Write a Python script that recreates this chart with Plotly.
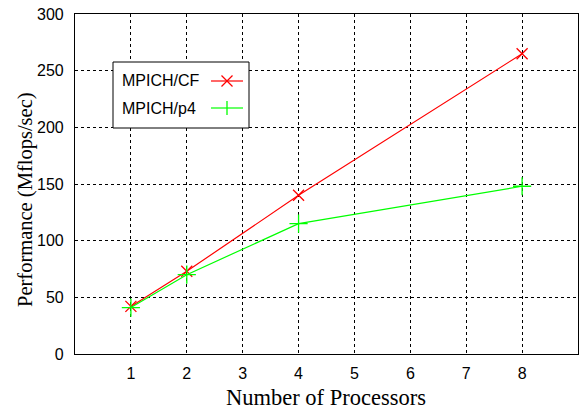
import plotly.graph_objects as go

processors = [1, 2, 4, 8]
mpich_cf = [42, 73, 140, 265]
mpich_p4 = [41, 70, 115, 148]
series_names = ["MPICH/CF", "MPICH/p4"]
x_ticks = [1, 2, 3, 4, 5, 6, 7, 8]
y_ticks = [0, 50, 100, 150, 200, 250, 300]
x_title = "Number of Processors"
y_title = "Performance (Mflops/sec)"

W, H = 580, 412
L, R, T, B = 75, 2, 14, 58
PW, PH = W - L - R, H - T - B

def px(x):
    return (x - L) / PW

def py(y):
    return (H - B - y) / PH

fig = go.Figure()
fig.add_trace(go.Scatter(x=processors, y=mpich_cf, mode="lines+markers", name=series_names[0],
                         line=dict(color="#ff0000", width=1.2),
                         marker=dict(symbol="x-thin-open", size=11, line=dict(color="#ff0000", width=1.3)),
                         showlegend=False))
fig.add_trace(go.Scatter(x=processors, y=mpich_p4, mode="lines+markers", name=series_names[1],
                         line=dict(color="#00ff00", width=1.2),
                         marker=dict(symbol="cross-thin-open", size=13, line=dict(color="#00ff00", width=1.3)),
                         showlegend=False))

shapes = []
shapes.append(dict(type="rect", xref="paper", yref="paper", x0=px(113), x1=px(249), y0=py(128), y1=py(62),
                   line=dict(color="black", width=1), fillcolor="white", layer="above"))
annotations = []
rows = [(81, "#ff0000", "x"), (108, "#00ff00", "+")]
for (yy, col, sym), name in zip(rows, series_names):
    shapes.append(dict(type="line", xref="paper", yref="paper", x0=px(211), x1=px(243), y0=py(yy), y1=py(yy),
                       line=dict(color=col, width=1.2), layer="above"))
    cx = 227
    if sym == "x":
        s = 5.5
        shapes.append(dict(type="line", xref="paper", yref="paper", x0=px(cx - s), x1=px(cx + s), y0=py(yy - s), y1=py(yy + s),
                           line=dict(color=col, width=1.3), layer="above"))
        shapes.append(dict(type="line", xref="paper", yref="paper", x0=px(cx - s), x1=px(cx + s), y0=py(yy + s), y1=py(yy - s),
                           line=dict(color=col, width=1.3), layer="above"))
    else:
        s = 7
        shapes.append(dict(type="line", xref="paper", yref="paper", x0=px(cx), x1=px(cx), y0=py(yy - s), y1=py(yy + s),
                           line=dict(color=col, width=1.3), layer="above"))
    annotations.append(dict(xref="paper", yref="paper", x=px(120), y=py(yy), text=name, showarrow=False,
                            xanchor="left", yanchor="middle",
                            font=dict(family="Liberation Sans, Arial, sans-serif", size=16, color="black")))

serif = "Liberation Serif, Times New Roman, serif"
annotations.append(dict(xref="paper", yref="paper", x=px(326), y=py(397), text=x_title, showarrow=False,
                        xanchor="center", yanchor="middle", font=dict(family=serif, size=22.5, color="black")))
annotations.append(dict(xref="paper", yref="paper", x=px(25), y=py(200), text=y_title, showarrow=False,
                        textangle=-90, xanchor="center", yanchor="middle",
                        font=dict(family=serif, size=20.5, color="black")))

fig.update_layout(
    width=W, height=H,
    margin=dict(l=L, r=R, t=T, b=B, pad=0),
    paper_bgcolor="white", plot_bgcolor="white",
    shapes=shapes, annotations=annotations,
    font=dict(family="Liberation Sans, Arial, sans-serif", size=16, color="black"),
    xaxis=dict(range=[0, 9], tickvals=x_ticks, ticktext=[str(v) for v in x_ticks],
               showgrid=True, gridcolor="black", griddash="dot", gridwidth=1,
               showline=True, linecolor="black", linewidth=1.2, mirror=True,
               ticks="", zeroline=False, ticklabelstandoff=5),
    yaxis=dict(range=[0, 300], tickvals=y_ticks, ticktext=[str(v) for v in y_ticks],
               showgrid=True, gridcolor="black", griddash="dot", gridwidth=1,
               showline=True, linecolor="black", linewidth=1.2, mirror=True,
               ticks="", zeroline=False, ticklabelstandoff=7),
)

fig.write_html("out.html")
